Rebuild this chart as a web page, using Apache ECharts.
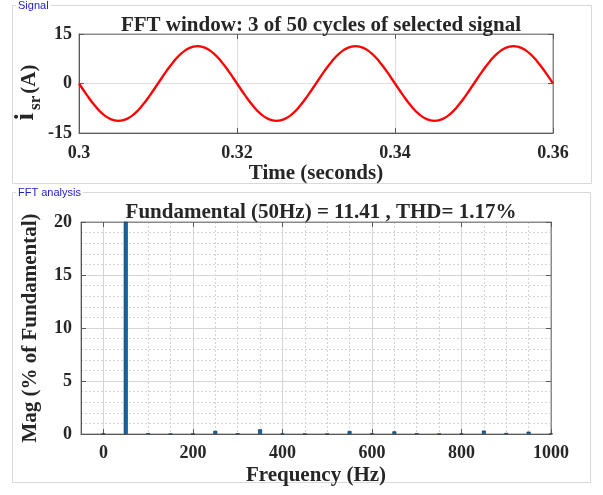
<!DOCTYPE html>
<html>
<head>
<meta charset="utf-8">
<script src="https://cdn.jsdelivr.net/npm/echarts@6/dist/echarts.min.js"></script>
<style>
html,body{margin:0;padding:0;background:#fff;}
#c{width:603px;height:495px;}
</style>
</head>
<body>
<div id="c"></div>
<script>
// ---------- data ----------
const signalTitle = 'FFT window: 3 of 50 cycles of selected signal';
const fftTitle = 'Fundamental (50Hz) = 11.41 , THD= 1.17%';
// time samples (s) and current i_sr (A)
const timeS = [0.300,0.301,0.302,0.303,0.304,0.305,0.306,0.307,0.308,0.309,
  0.310,0.311,0.312,0.313,0.314,0.315,0.316,0.317,0.318,0.319,
  0.320,0.321,0.322,0.323,0.324,0.325,0.326,0.327,0.328,0.329,
  0.330,0.331,0.332,0.333,0.334,0.335,0.336,0.337,0.338,0.339,
  0.340,0.341,0.342,0.343,0.344,0.345,0.346,0.347,0.348,0.349,
  0.350,0.351,0.352,0.353,0.354,0.355,0.356,0.357,0.358,0.359,0.360];
const currentA = [0,-3.5,-6.7,-9.2,-10.8,-11.3,-10.8,-9.2,-6.7,-3.5,
  0,3.5,6.7,9.2,10.8,11.3,10.8,9.2,6.7,3.5,
  0,-3.5,-6.7,-9.2,-10.8,-11.3,-10.8,-9.2,-6.7,-3.5,
  0,3.5,6.7,9.2,10.8,11.3,10.8,9.2,6.7,3.5,
  0,-3.5,-6.7,-9.2,-10.8,-11.3,-10.8,-9.2,-6.7,-3.5,
  0,3.5,6.7,9.2,10.8,11.3,10.8,9.2,6.7,3.5,0];
// FFT harmonic magnitudes (% of fundamental)
const freqHz = [0,50,100,150,200,250,300,350,400,450,500,550,600,650,700,750,800,850,900,950,1000];
const magPct = [0.05,100,0.08,0.03,0.04,0.30,0.07,0.45,0.04,0.03,0.03,0.28,0.05,0.25,0.08,0.03,0.04,0.32,0.10,0.22,0.03];
const freqTicks = [0,200,400,600,800,1000];
const timeTicks = ['0.3','0.32','0.34','0.36'];

// ---------- chart ----------
const serif = '"Liberation Serif","Times New Roman",serif';
const lblStyle = {fontFamily: serif, fontWeight: 'bold', fontSize: 18, color: '#262626'};
const nameStyle = {fontFamily: serif, fontWeight: 'bold', fontSize: 21, color: '#262626'};
const axisCol = '#5a5a5a';

const chart = echarts.init(document.getElementById('c'), null, {renderer: 'canvas'});
const option = {
  animation: false,
  backgroundColor: '#fff',
  graphic: [
    {type: 'rect', shape: {x: 12.5, y: 5.5, width: 579, height: 178}, style: {fill: 'none', stroke: '#d9d9d9', lineWidth: 1}, z: -10},
    {type: 'rect', shape: {x: 12.5, y: 192.5, width: 578, height: 290}, style: {fill: 'none', stroke: '#d9d9d9', lineWidth: 1}, z: -10},
    {type: 'text', left: 16, top: 0, style: {text: 'Signal', fontFamily: 'Arial, "Liberation Sans", sans-serif', fontSize: 11, fill: '#1c1cc8', backgroundColor: '#fff', padding: [0, 2]}},
    {type: 'text', left: 16, top: 187, style: {text: 'FFT analysis', fontFamily: 'Arial, "Liberation Sans", sans-serif', fontSize: 11, fill: '#1c1cc8', backgroundColor: '#fff', padding: [0, 2]}}
  ],
  title: [
    {text: signalTitle, left: 316, top: 10, textAlign: 'center', textStyle: nameStyle},
    {text: fftTitle, left: 316, top: 197, textAlign: 'center', textStyle: nameStyle}
  ],
  grid: [
    {left: 79, top: 34, width: 474, height: 99, show: true, borderColor: '#8a8a8a', borderWidth: 1, backgroundColor: '#fff', outerBoundsMode: 'none', containLabel: false},
    {left: 81, top: 222, width: 470, height: 212, show: true, borderColor: '#8a8a8a', borderWidth: 1, backgroundColor: '#fff', outerBoundsMode: 'none', containLabel: false}
  ],
  xAxis: [
    {gridIndex: 0, type: 'value', position: 'bottom', min: 0.3, max: 0.36, interval: 0.02,
     axisLine: {show: true, onZero: false, lineStyle: {color: axisCol}},
     axisTick: {inside: true, length: 5, lineStyle: {color: axisCol}},
     axisLabel: Object.assign({margin: 11, formatter: v => timeTicks[Math.round((v - 0.3) / 0.02)]}, lblStyle),
     splitLine: {show: true, lineStyle: {color: '#dedede', width: 1}},
     name: 'Time (seconds)', nameLocation: 'middle', nameGap: 28, nameTextStyle: nameStyle},
    {gridIndex: 0, type: 'value', position: 'top', min: 0.3, max: 0.36, interval: 0.02,
     axisLine: {show: true, onZero: false, lineStyle: {color: '#8a8a8a'}},
     axisTick: {inside: true, length: 5, lineStyle: {color: axisCol}},
     axisLabel: {show: false}, splitLine: {show: false}},
    {gridIndex: 1, type: 'value', position: 'bottom', min: -50, max: 1000,
     axisLine: {show: true, onZero: false, lineStyle: {color: axisCol}},
     axisTick: {inside: true, length: 5, customValues: freqTicks, lineStyle: {color: axisCol}},
     axisLabel: Object.assign({margin: 10, customValues: freqTicks, formatter: v => String(v)}, lblStyle),
     splitLine: {show: true, lineStyle: {color: '#d6d6d6', width: 1}},
     name: 'Frequency (Hz)', nameLocation: 'middle', nameGap: 31, nameTextStyle: nameStyle},
    {gridIndex: 1, type: 'value', position: 'bottom', min: -50, max: 1000, interval: 50,
     axisLine: {show: false}, axisTick: {show: false}, axisLabel: {show: false},
     splitLine: {show: true, lineStyle: {color: '#d4d4d4', type: [2, 2], width: 1}}},
    {gridIndex: 1, type: 'value', position: 'top', min: -50, max: 1000,
     axisLine: {show: true, onZero: false, lineStyle: {color: '#8a8a8a'}},
     axisTick: {inside: true, length: 5, customValues: freqTicks, lineStyle: {color: axisCol}},
     axisLabel: {show: false}, splitLine: {show: false}}
  ],
  yAxis: [
    {gridIndex: 0, type: 'value', position: 'left', min: -15, max: 15, interval: 15,
     axisLine: {show: true, onZero: false, lineStyle: {color: axisCol}},
     axisTick: {inside: true, length: 5, lineStyle: {color: axisCol}},
     axisLabel: Object.assign({margin: 7}, lblStyle),
     splitLine: {show: true, lineStyle: {color: '#dedede'}},
     name: '{i|i}{s|sr}{a|(A)}', nameLocation: 'middle', nameGap: 39, nameMoveOverlap: false,
     nameTextStyle: {padding: [0, 18, 0, 0], rich: {
       i: {fontFamily: serif, fontWeight: 'bold', fontSize: 27, color: '#262626', verticalAlign: 'bottom', padding: [0, 3, 0, 0]},
       s: {fontFamily: serif, fontWeight: 'bold', fontSize: 17, color: '#262626', verticalAlign: 'bottom', padding: [0, 2, -4, 0]},
       a: {fontFamily: serif, fontWeight: 'bold', fontSize: 21, color: '#262626', verticalAlign: 'bottom'}
     }}},
    {gridIndex: 0, type: 'value', position: 'right', min: -15, max: 15, interval: 15,
     axisLine: {show: true, onZero: false, lineStyle: {color: '#8a8a8a'}},
     axisTick: {inside: true, length: 5, lineStyle: {color: axisCol}},
     axisLabel: {show: false}, splitLine: {show: false}},
    {gridIndex: 1, type: 'value', position: 'left', min: 0, max: 20, interval: 5,
     axisLine: {show: true, onZero: false, lineStyle: {color: axisCol}},
     axisTick: {inside: true, length: 5, lineStyle: {color: axisCol}},
     axisLabel: Object.assign({margin: 9}, lblStyle),
     splitLine: {show: true, lineStyle: {color: '#d6d6d6'}},
     minorTick: {show: false, splitNumber: 5},
     minorSplitLine: {show: true, lineStyle: {color: '#d4d4d4', type: [2, 2]}},
     name: 'Mag (% of Fundamental)', nameLocation: 'middle', nameGap: 40, nameTextStyle: nameStyle},
    {gridIndex: 1, type: 'value', position: 'right', min: 0, max: 20, interval: 5,
     axisLine: {show: true, onZero: false, lineStyle: {color: '#8a8a8a'}},
     axisTick: {inside: true, length: 5, lineStyle: {color: axisCol}},
     axisLabel: {show: false}, splitLine: {show: false}}
  ],
  series: [
    {type: 'line', xAxisIndex: 0, yAxisIndex: 0, smooth: true, showSymbol: false,
     data: timeS.map((t, i) => [t, currentA[i]]),
     lineStyle: {color: '#ff0000', width: 2.3}, z: 5},
    {type: 'bar', xAxisIndex: 2, yAxisIndex: 2, barWidth: 4, clip: true,
     data: freqHz.map((f, i) => [f, magPct[i]]),
     itemStyle: {color: '#0c65ad', borderColor: '#1d2d3d', borderWidth: 0.6}, z: 5}
  ]
};
chart.setOption(option);
</script>
</body>
</html>
